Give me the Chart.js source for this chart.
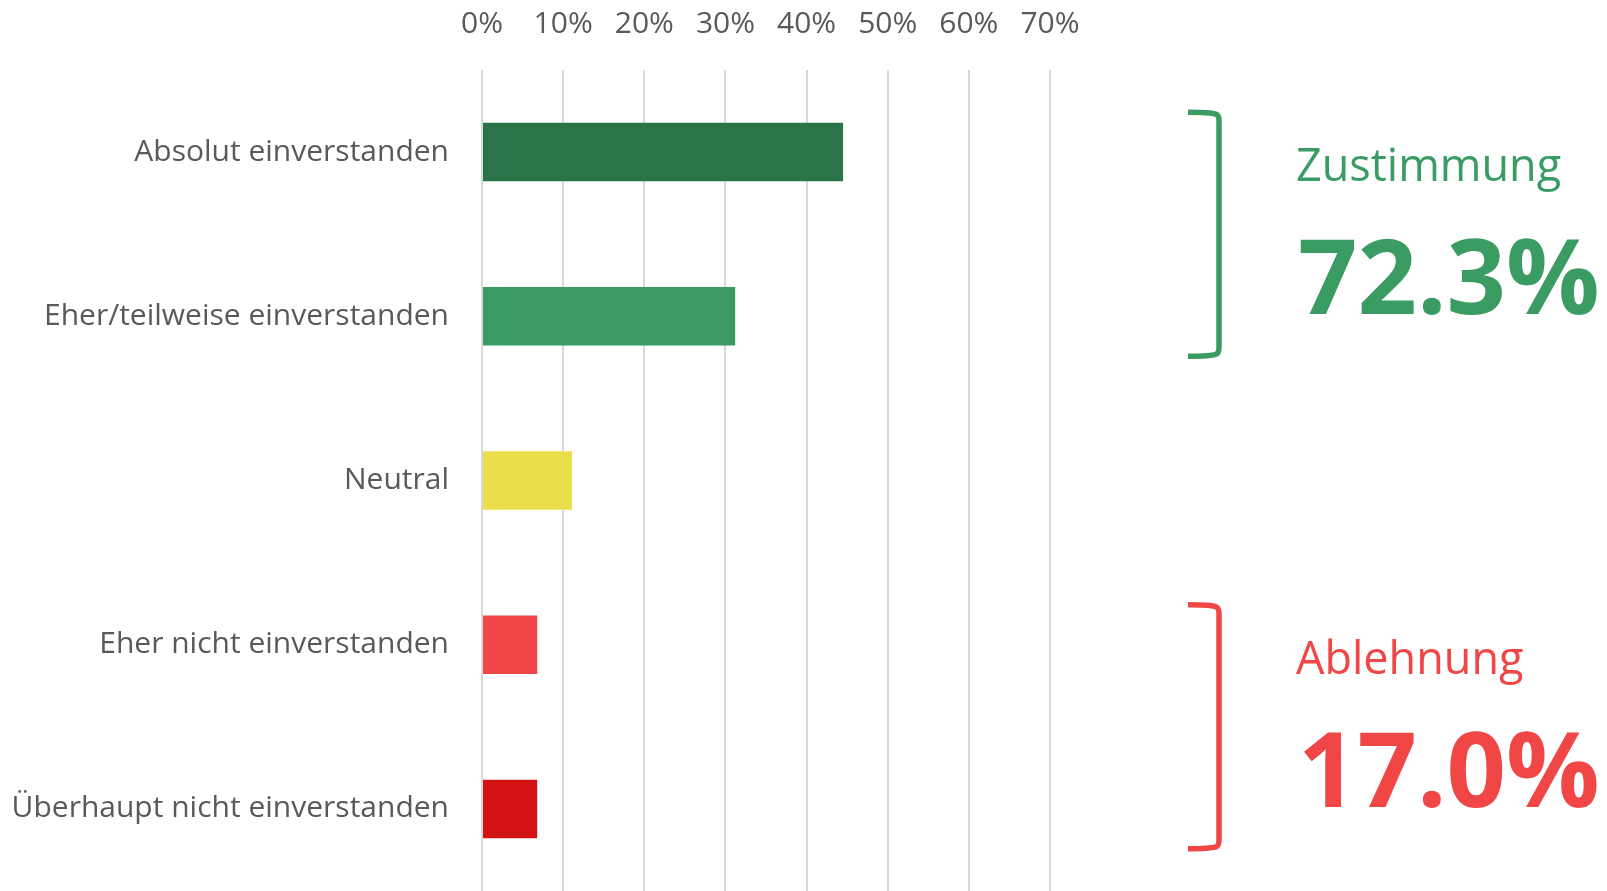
<!DOCTYPE html>
<html>
<head>
<meta charset="utf-8">
<script src="https://cdn.jsdelivr.net/npm/chart.js@4.4.0/dist/chart.umd.min.js"></script>
<style>
    html, body { margin: 0; padding: 0; background: #fff; }
    canvas { display: block; }
</style>
</head>
<body>
<canvas id="surveyChart" width="1607" height="891"></canvas>
<script>
// Categories and share of answers (%)
const categories = [
    'Absolut einverstanden',
    'Eher/teilweise einverstanden',
    'Neutral',
    'Eher nicht einverstanden',
    'Überhaupt nicht einverstanden'
];
const shares = [44.5, 31.2, 11.1, 6.8, 6.8];
const barColors = ['#2b7449', '#3a9a61', '#eadf4a', '#f04545', '#d31313'];

// Summary groups shown on the right (first and last category index of each)
const groupNames = ['Zustimmung', 'Ablehnung'];
const groupTotals = ['72.3%', '17.0%'];
const groupRanges = [[0, 1], [3, 4]];
const groupColors = ['#3a9c63', '#f04646'];

const FONT = '"Open Sans", "Noto Sans", sans-serif';

// Draws the brackets and the big summary numbers next to the chart
const summaryPlugin = {
    id: 'summary',
    afterDraw(chart) {
        const ctx = chart.ctx;
        const y = chart.scales.y;
        groupRanges.forEach((range, i) => {
            const mid = (y.getPixelForValue(range[0]) + y.getPixelForValue(range[1])) / 2;
            const top = mid - 121;
            const bottom = mid + 121;
            const xl = 1188, xr = 1219;

            ctx.save();
            ctx.strokeStyle = groupColors[i];
            ctx.lineWidth = 5.5;
            ctx.lineCap = 'butt';
            ctx.beginPath();
            ctx.moveTo(xl, top - 1);
            ctx.quadraticCurveTo(xr - 8, top - 1, xr - 3, top + 1);
            ctx.quadraticCurveTo(xr, top + 2, xr, top + 8);
            ctx.lineTo(xr, bottom - 8);
            ctx.quadraticCurveTo(xr, bottom - 2, xr - 3, bottom - 1);
            ctx.quadraticCurveTo(xr - 8, bottom + 1, xl, bottom + 1);
            ctx.stroke();

            ctx.fillStyle = groupColors[i];
            ctx.textAlign = 'left';
            ctx.textBaseline = 'alphabetic';
            ctx.font = '45px ' + FONT;
            ctx.fillText(groupNames[i], 1296, top + 68);
            ctx.font = 'bold 104px ' + FONT;
            ctx.fillText(groupTotals[i], 1298, top + 201);
            ctx.restore();
        });
    }
};

const ctx = document.getElementById('surveyChart').getContext('2d');
const mainChart = new Chart(ctx, {
    type: 'bar',
    data: {
        labels: categories,
        datasets: [{
            data: shares,
            backgroundColor: barColors,
            borderWidth: 0,
            categoryPercentage: 1,
            barPercentage: 0.356
        }]
    },
    options: {
        indexAxis: 'y',
        responsive: false,
        animation: false,
        devicePixelRatio: 1,
        layout: {
            padding: { top: 0, right: 557, bottom: -3, left: 0 }
        },
        plugins: {
            legend: { display: false },
            tooltip: { enabled: false }
        },
        scales: {
            x: {
                position: 'top',
                min: 0,
                max: 70,
                border: { display: false },
                grid: { color: '#d9d9d9', lineWidth: 2, drawTicks: false },
                ticks: {
                    stepSize: 10,
                    padding: 28,
                    color: '#595959',
                    font: { family: FONT, size: 30 },
                    callback: v => v + '%'
                },
                afterFit: scale => { scale.height = 70; }
            },
            y: {
                border: { display: false },
                grid: { display: false, drawTicks: false },
                ticks: {
                    padding: 33,
                    color: '#595959',
                    font: { family: FONT, size: 30 }
                },
                afterFit: scale => {
                    // fixed label column, and no extra room above/below the bars
                    scale.width = 482;
                    scale.paddingTop = 0;
                    scale.paddingBottom = 0;
                }
            }
        }
    },
    plugins: [summaryPlugin]
});
</script>
</body>
</html>
